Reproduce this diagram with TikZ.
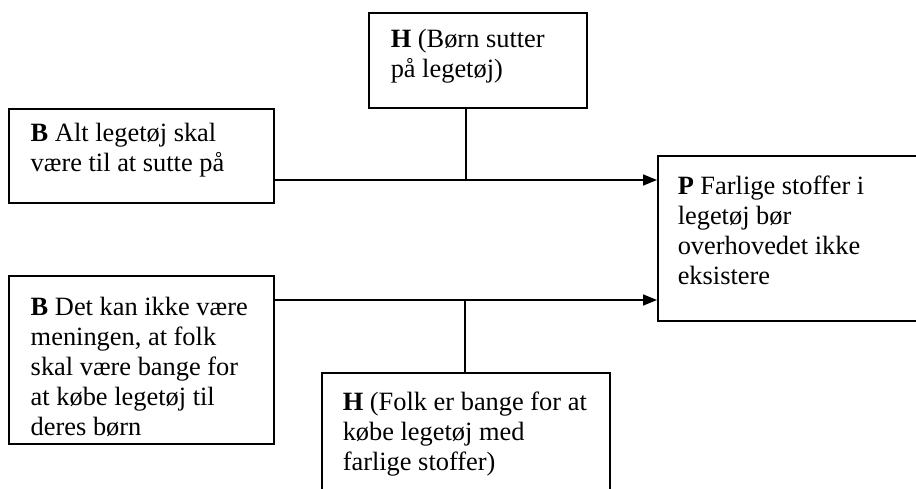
\documentclass[tikz,border=0pt]{standalone}
\usepackage{fontspec}
\setmainfont{Liberation Serif}
\usetikzlibrary{arrows.meta}

% box text: width, height, top gap, left gap, text
\newcommand{\bokstekst}[5]{\begin{minipage}[t][#2][t]{#1}\vspace*{#3}\raggedright\leftskip=#4
\fontsize{26.4pt}{30pt}\selectfont #5\end{minipage}}

\tikzset{
  kasse/.style={draw, line width=1.5pt, anchor=north west, inner sep=0pt, align=left},
  pil/.style={line width=1.6pt, -{Triangle[length=14pt,width=11pt]}},
  streg/.style={line width=1.6pt}
}

\begin{document}
\begin{tikzpicture}[x=1pt,y=-1pt]
\useasboundingbox (0,0) rectangle (916,488);

\node[kasse] (h1) at (368,12) {\bokstekst{218pt}{95pt}{16pt}{22pt}{\textbf{H} (Børn sutter\\ på legetøj)}};
\node[kasse] (b1) at (8,108) {\bokstekst{265pt}{94pt}{14pt}{22pt}{\textbf{B} Alt legetøj skal\\ være til at sutte på}};
\node[kasse] (b2) at (8,275) {\bokstekst{265pt}{168pt}{21pt}{22pt}{\textbf{B} Det kan ikke være\\ meningen, at folk\\ skal være bange for\\ at købe legetøj til\\ deres børn}};
\node[kasse] (p) at (657,155) {\bokstekst{275pt}{165pt}{20pt}{20pt}{\textbf{P} Farlige stoffer i\\ legetøj bør\\ overhovedet ikke\\ eksistere}};
\node[kasse] (h2) at (321,372) {\bokstekst{288pt}{200pt}{19pt}{21pt}{\textbf{H} (Folk er bange for at\\ købe legetøj med\\ farlige stoffer)}};

\coordinate (j1) at (466,180);
\coordinate (j2) at (465,300);

\draw[pil] (b1.east |- j1) -- (p.west |- j1);
\draw[streg] (j1 |- h1.south) -- (j1);
\draw[pil] (b2.east |- j2) -- (p.west |- j2);
\draw[streg] (j2) -- (j2 |- h2.north);
\end{tikzpicture}
\end{document}
